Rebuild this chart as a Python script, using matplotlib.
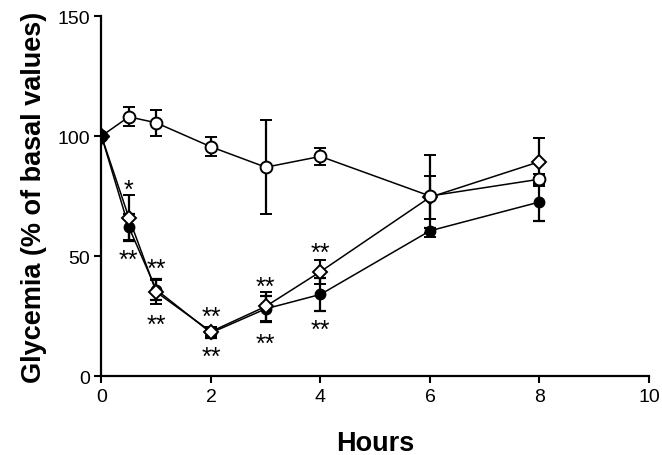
import matplotlib.pyplot as plt
import numpy as np

plt.rcParams['font.family'] = ['Liberation Sans', 'DejaVu Sans']

# Time points (hours)
hours = [0, 0.5, 1, 2, 3, 4, 6, 8]

# Glycemia (% of basal) for the three groups
control = [100, 108, 105.5, 95.5, 87, 91.5, 75, 82]
control_err = [0, 4, 5.5, 4, 19.5, 3.5, 17, 2]

diamond = [100, 66, 35, 18.5, 29, 43.5, 74.5, 89.3]
diamond_err = [0, 9.5, 5, 2, 6, 5, 9, 10]

filled = [100, 62, 36, 18, 28, 34, 60.5, 72.5]
filled_err = [0, 5.6, 4.5, 2, 5.5, 7, 1, 8]

# significance marks: (x, y, text)
stars_x = [0.5, 0.5, 1, 1, 2, 2, 3, 3, 4, 4]
stars_y = [81, 51.7, 48, 25, 28, 11.3, 40.7, 16.8, 54.7, 22.7]
stars_txt = ["*", "**", "**", "**", "**", "**", "**", "**", "**", "**"]

fig = plt.figure(figsize=(6.62, 4.56), dpi=100)
ax = fig.add_axes([0.1533, 0.1732, 0.827, 0.7895])

common = dict(color="black", lw=1.1, elinewidth=1.6, capsize=4, capthick=1.6)
ax.errorbar(hours, filled, yerr=filled_err, marker="o", ms=7.5,
            mfc="black", mec="black", zorder=3, **common)
ax.errorbar(hours, diamond, yerr=diamond_err, marker="D", ms=7,
            mfc="white", mec="black", mew=1.4, zorder=4, **common)
ax.errorbar(hours, control, yerr=control_err, marker="o", ms=8.5,
            mfc="white", mec="black", mew=1.4, zorder=5, **common)
# basal point drawn as a filled diamond
ax.plot([0], [100], marker="D", ms=8, color="black", zorder=6)

for sx, sy, st in zip(stars_x, stars_y, stars_txt):
    ax.text(sx, sy - 3.5, st, ha="center", va="center", fontsize=18)

ax.set_xlim(0, 10)
ax.set_ylim(0, 150)
ax.set_xticks([0, 2, 4, 6, 8, 10])
ax.set_yticks([0, 50, 100, 150])
ax.tick_params(direction="out", length=5, width=1.5, labelsize=14)
for s in ["top", "right"]:
    ax.spines[s].set_visible(False)
for s in ["left", "bottom"]:
    ax.spines[s].set_linewidth(1.6)

ax.set_xlabel("Hours", fontsize=19.5, fontweight="bold", labelpad=18)
ax.set_ylabel("Glycemia (% of basal values)", fontsize=19.5, fontweight="bold", labelpad=7)

fig.savefig("out.png", dpi=100)
